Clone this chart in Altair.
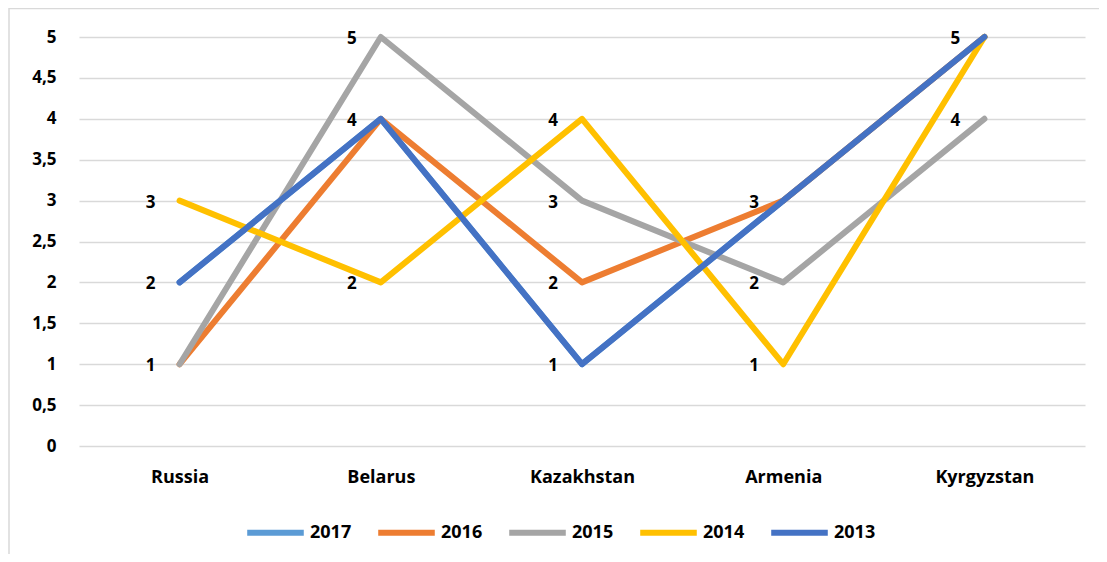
import altair as alt
import pandas as pd

countries = ["Russia", "Belarus", "Kazakhstan", "Armenia", "Kyrgyzstan"]
years = ["2017", "2016", "2015", "2014", "2013"]
colors = ["#5B9BD5", "#ED7D31", "#A5A5A5", "#FFC000", "#4472C4"]
v2017 = [2, 4, 1, 3, 5]
v2016 = [1, 4, 2, 3, 5]
v2015 = [1, 5, 3, 2, 4]
v2014 = [3, 2, 4, 1, 5]
v2013 = [2, 4, 1, 3, 5]
y_ticks = [0, 0.5, 1, 1.5, 2, 2.5, 3, 3.5, 4, 4.5, 5]

series = {"2017": v2017, "2016": v2016, "2015": v2015, "2014": v2014, "2013": v2013}
rows = []
for i, yr in enumerate(years):
    for j, c in enumerate(countries):
        rows.append({"country": c, "year": yr, "value": series[yr][j], "ord": i})
df = pd.DataFrame(rows)
labels = df.drop_duplicates(subset=["country", "value"])

FONT = "Open Sans"
FS = 17
W, H = 1006, 409

xscale = alt.Scale(domain=countries, paddingOuter=0.5, paddingInner=0)
x = alt.X("country:N", sort=countries, title=None, scale=xscale,
          axis=alt.Axis(labelAngle=0, ticks=False, domain=False, grid=False,
                        labelFont=FONT, labelFontWeight="bold", labelFontSize=18,
                        labelColor="#000000", labelPadding=22))
y = alt.Y("value:Q", title=None,
          scale=alt.Scale(domain=[0, 5], nice=False),
          axis=alt.Axis(values=y_ticks, ticks=False, domain=False,
                        labelExpr="replace(toString(datum.value), '.', ',')",
                        labelFont=FONT, labelFontWeight="bold", labelFontSize=FS,
                        labelColor="#000000", labelPadding=23,
                        gridColor="#D9D9D9", gridWidth=1.3))

lines = alt.Chart(df).mark_line(strokeWidth=6, strokeCap="round", strokeJoin="round").encode(
    x=x, y=y,
    color=alt.Color("year:N", scale=alt.Scale(domain=years, range=colors), title=None,
                    legend=alt.Legend(orient="none", direction="horizontal",
                                      legendX=165, legendY=H + 55,
                                      symbolType="stroke", symbolStrokeWidth=6,
                                      symbolSize=3200, columnPadding=14,
                                      labelFont=FONT, labelFontWeight="bold",
                                      labelFontSize=18, labelColor="#000000",
                                      labelOffset=3)),
    order=alt.Order("ord:Q"),
    detail="year:N",
)

text = alt.Chart(labels).mark_text(font=FONT, fontWeight="bold", fontSize=FS,
                                   color="#000000", dx=-29, dy=2, baseline="middle",
                                   align="center").encode(
    x=alt.X("country:N", sort=countries, scale=xscale),
    y=alt.Y("value:Q"),
    text="value:Q",
)

border_top = alt.Chart(pd.DataFrame({"a": [0]})).mark_rule(color="#D9D9D9", strokeWidth=1.5, clip=False).encode(
    x=alt.value(-70), x2=alt.value(W + 20), y=alt.value(-28.5))
border_left = alt.Chart(pd.DataFrame({"a": [0]})).mark_rule(color="#D9D9D9", strokeWidth=1.5, clip=False).encode(
    x=alt.value(-70), y=alt.value(-29), y2=alt.value(H + 120))

chart = alt.layer(border_top, border_left, lines, text).properties(
    width=W, height=H,
    padding={"left": 71, "top": 29, "right": 14, "bottom": 108},
    autosize=alt.AutoSizeParams(type="none"),
).configure_view(stroke=None)

chart.save("out.html", embed_options={"renderer": "svg", "actions": False})
